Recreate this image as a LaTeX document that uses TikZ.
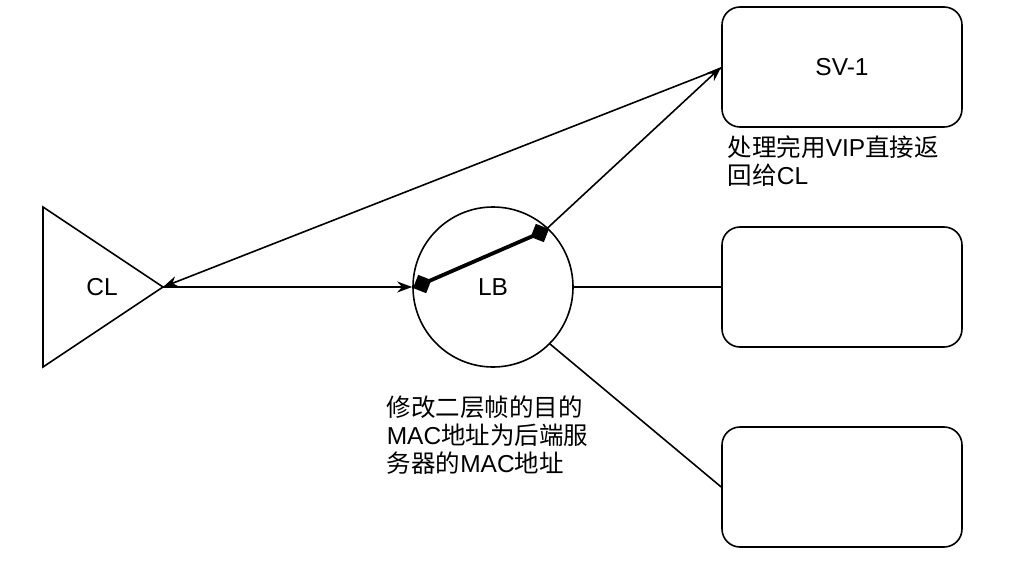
\documentclass[tikz,border=0pt]{standalone}
\usepackage{fontspec}
\setmainfont{Liberation Sans}
\newfontfamily\cjk{Noto Sans CJK SC}
\usetikzlibrary{arrows.meta,shapes.geometric}
\begin{document}
\begin{tikzpicture}[x=1pt,y=-1pt,line width=1.6pt,
  lbl/.style={font=\fontsize{24.5}{28}\selectfont},
  box/.style={draw,rounded corners=18pt,minimum width=240pt,minimum height=120pt,inner sep=0pt,lbl},
  note/.style={lbl,align=left,anchor=north west,inner sep=0pt},
  arr/.style={-{Stealth[length=15pt,width=11pt]}}]
\useasboundingbox (0,0) rectangle (1024,564);
% CL triangle
\coordinate (cltop) at (43,207);
\coordinate (clbot) at (43,367);
\coordinate (clapex) at (163,287);
\draw[line join=miter] (cltop) -- (clapex) -- (clbot) -- cycle;
\node[lbl] (CL) at (102,287) {CL};
% LB circle
\node[draw,circle,minimum size=160pt,inner sep=0pt,lbl] (LB) at (493,287) {LB};
% servers
\node[box] (sv1) at (842,67) {SV-1};
\node[box] (sv2) at (842,287) {};
\node[box] (sv3) at (842,487) {};
% thick line inside LB
\coordinate (dl) at (413,288);
\coordinate (dr) at (549,229);
\draw[line width=3.8pt,{Diamond[length=20pt,width=20pt]}-{Diamond[length=20pt,width=20pt]}] (dl) -- (dr);
% connectors
\draw[arr] (clapex) -- (LB.west);
\coordinate (svin) at (722,68);
\draw[arr] (svin) -- (clapex);
\coordinate (lbout) at (540,235);
\draw[arr] (lbout) -- (sv1.west);
\draw (LB.east) -- (sv2.west);
\draw (LB.-45) -- (sv3.west);
% notes
\node[note] (n1) at (727,135) {{\cjk 处理完用}VIP{\cjk 直接返}\\{\cjk 回给}CL};
\node[note] (n2) at (386,395) {{\cjk 修改二层帧的目的}\\MAC{\cjk 地址为后端服}\\{\cjk 务器的}MAC{\cjk 地址}};
\end{tikzpicture}
\end{document}
